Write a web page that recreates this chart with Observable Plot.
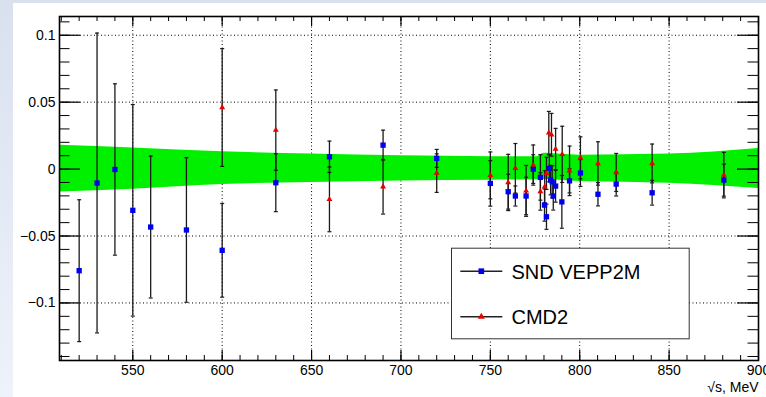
<!DOCTYPE html>
<html><head><meta charset="utf-8">
<script src="https://cdn.jsdelivr.net/npm/d3@7"></script>
<script src="https://cdn.jsdelivr.net/npm/@observablehq/plot@0.6"></script>
<style>
html,body{margin:0;padding:0;width:766px;height:397px;overflow:hidden;background:linear-gradient(#d9e1ef,#eef2fa);}
#chart{position:absolute;left:13px;top:3px;width:753px;height:394px;background:#fff;}
</style></head><body><div id="chart"></div>
<script>
// SND VEPP2M
const sndX   = [520, 530, 540, 550, 560, 580, 600, 630, 660, 690, 720, 750, 760, 764, 770, 774, 778, 780.3, 781.4, 783, 783.7, 784.6, 785.2, 786.5, 790, 794.3, 800.4, 810.2, 820.4, 840.5, 880.6];
const sndY   = [-0.0759, -0.0104, -0.0003, -0.0308, -0.0433, -0.0455, -0.0607, -0.0102, 0.0092, 0.0179, 0.0080, -0.0107, -0.0169, -0.0201, -0.0201, 0.0000, -0.0062, -0.0269, -0.0356, 0.0005, -0.0082, -0.0095, -0.0201, -0.0127, -0.0245, -0.0088, -0.0029, -0.0188, -0.0112, -0.0177, -0.0082];
const sndErr = [0.053, 0.112, 0.064, 0.079, 0.053, 0.054, 0.035, 0.0216, 0.0117, 0.0112, 0.0067, 0.017, 0.013, 0.0075, 0.014, 0.0107, 0.017, 0.012, 0.0094, 0.010, 0.011, 0.012, 0.0105, 0.012, 0.0197, 0.009, 0.010, 0.0087, 0.0089, 0.0092, 0.012];
// CMD2
const cmdX   = [600, 630, 660, 690, 720, 750, 760, 764, 770, 774, 778, 780.4, 781.4, 782.7, 784.2, 786.5, 790.2, 794.3, 800.4, 810.2, 820.4, 840.5, 880.6];
const cmdY   = [0.046, 0.0291, -0.0226, -0.0132, -0.003, -0.0047, -0.0100, 0.0006, -0.0163, 0.003, -0.0167, -0.0132, -0.0032, 0.0271, 0.0256, 0.0149, 0.011, -0.0013, 0.0084, 0.0042, -0.0025, 0.0042, -0.0045];
const cmdErr = [0.044, 0.030, 0.0242, 0.0204, 0.0144, 0.0175, 0.021, 0.0185, 0.019, 0.015, 0.014, 0.012, 0.012, 0.016, 0.016, 0.0155, 0.021, 0.0185, 0.0157, 0.0162, 0.0142, 0.0145, 0.017];
// band
const bandX  = [509, 550, 600, 650, 700, 750, 776, 780, 790, 800, 850, 900];
const bandHi = [0.0178, 0.0158, 0.0130, 0.0113, 0.0100, 0.0093, 0.0092, 0.0118, 0.0110, 0.0104, 0.0112, 0.0154];
const bandLo = [-0.0172, -0.0150, -0.0115, -0.0100, -0.0089, -0.0083, -0.0080, -0.0078, -0.0085, -0.0092, -0.0105, -0.0145];
// ticks
const xTickValues = [550, 600, 650, 700, 750, 800, 850, 900];
const xTickLabels = ["550", "600", "650", "700", "750", "800", "850", "900"];
const yTickValues = [-0.1, -0.05, 0, 0.05, 0.1];
const yTickLabels = ["\u22120.1", "\u22120.05", "0", "0.05", "0.1"];
const seriesNames = ["SND VEPP2M", "CMD2"];
const xLabel = "\u221As, MeV";

const W = 753, H = 394, mL = 46, mR = 8, mT = 13, mB = 37;
const iW = W - mL - mR, iH = H - mT - mB;
const xMinor = d3.range(510, 901, 10);
const yMinor = d3.range(-14, 12).map(v => Math.round(v) / 100);
const blue = "#0000f0", red = "#e80000", green = "#00f000", bar = "#1a1a1a";

const snd = sndX.map((x, i) => ({x, y: sndY[i], e: sndErr[i]}));
const cmd = cmdX.map((x, i) => ({x, y: cmdY[i], e: cmdErr[i]}));
const band = bandX.map((x, i) => ({x, hi: bandHi[i], lo: bandLo[i]}));

const lineSym = {draw(ctx, size) { const w = Math.sqrt(size / Math.PI); ctx.moveTo(-w, 0); ctx.lineTo(w, 0); }};

function errMarks(data) {
  return [
    Plot.ruleX(data, {x: "x", y1: d => d.y - d.e, y2: d => d.y + d.e, stroke: bar, strokeWidth: 1.3}),
    Plot.dot(data, {x: "x", y: d => d.y - d.e, symbol: lineSym, r: 2, stroke: bar, fill: "none", strokeWidth: 1.2}),
    Plot.dot(data, {x: "x", y: d => d.y + d.e, symbol: lineSym, r: 2, stroke: bar, fill: "none", strokeWidth: 1.2})
  ];
}

const lgL = 392, lgR = 69.3, lgT = 231.7, lgB = 21.7;
const lgCx = 421.8, lgY1 = 254.7, lgY2 = 300.3, lgTx = 452;

const chart = Plot.plot({
  width: W, height: H, marginLeft: mL, marginRight: mR, marginTop: mT, marginBottom: mB,
  style: {fontFamily: "'Liberation Sans', Arial, Helvetica, sans-serif", fontSize: "14px", background: "white", color: "black", overflow: "visible"},
  x: {domain: [509, 900], ticks: xTickValues, tickSize: 0, tickPadding: 5, tickFormat: d => xTickLabels[xTickValues.indexOf(d)], label: null},
  y: {domain: [-0.143, 0.114], ticks: yTickValues, tickSize: 0, tickPadding: 4, tickFormat: d => yTickLabels[yTickValues.findIndex(v => Math.abs(v - d) < 1e-9)], label: null},
  marks: [
    Plot.ruleX(xTickValues.slice(0, -1), {stroke: "black", strokeWidth: 1, strokeDasharray: "1,2.5"}),
    Plot.ruleY(yTickValues, {stroke: "black", strokeWidth: 1, strokeDasharray: "1,2.5"}),
    Plot.areaY(band, {x: "x", y1: "lo", y2: "hi", fill: green, curve: "monotone-x"}),
    // ticks
    Plot.ruleY(yMinor, {y: d => d, insetRight: iW - 10.5, stroke: "black", strokeWidth: 1}),
    Plot.ruleY(yMinor, {y: d => d, insetLeft: iW - 10.5, stroke: "black", strokeWidth: 1}),
    Plot.ruleY(yTickValues, {y: d => d, insetRight: iW - 21, stroke: "black", strokeWidth: 1.2}),
    Plot.ruleY(yTickValues, {y: d => d, insetLeft: iW - 21, stroke: "black", strokeWidth: 1.2}),
    Plot.ruleX(xMinor, {x: d => d, insetTop: iH - 5, stroke: "black", strokeWidth: 1}),
    Plot.ruleX(xMinor, {x: d => d, insetBottom: iH - 5, stroke: "black", strokeWidth: 1}),
    Plot.ruleX(xTickValues, {x: d => d, insetTop: iH - 10, stroke: "black", strokeWidth: 1.2}),
    Plot.ruleX(xTickValues, {x: d => d, insetBottom: iH - 10, stroke: "black", strokeWidth: 1.2}),
    // data
    ...errMarks(snd),
    ...errMarks(cmd),
    Plot.dot(snd, {x: "x", y: "y", symbol: "square", r: 3, fill: blue}),
    Plot.dot(cmd, {x: "x", y: "y", symbol: "triangle", r: 2.2, fill: red}),
    Plot.frame({stroke: "black", strokeWidth: 1.6}),
    // legend
    Plot.frame({insetLeft: lgL, insetRight: lgR, insetTop: lgT, insetBottom: lgB, fill: "white", stroke: "#333", strokeWidth: 1}),
    Plot.dot([0], {frameAnchor: "top-left", dx: lgCx, dy: lgY1, symbol: lineSym, r: 21, stroke: "#222", fill: "none", strokeWidth: 1.5}),
    Plot.dot([0], {frameAnchor: "top-left", dx: lgCx, dy: lgY2, symbol: lineSym, r: 21, stroke: "#222", fill: "none", strokeWidth: 1.5}),
    Plot.dot([0], {frameAnchor: "top-left", dx: lgCx, dy: lgY1, symbol: "square", r: 3.2, fill: blue}),
    Plot.dot([0], {frameAnchor: "top-left", dx: lgCx, dy: lgY2, symbol: "triangle", r: 2.6, fill: red}),
    Plot.text([seriesNames[0]], {frameAnchor: "top-left", dx: lgTx, dy: lgY1 + 1, text: d => d, textAnchor: "start", lineAnchor: "middle", fontSize: 20, fill: "black"}),
    Plot.text([seriesNames[1]], {frameAnchor: "top-left", dx: lgTx, dy: lgY2 + 1, text: d => d, textAnchor: "start", lineAnchor: "middle", fontSize: 20, fill: "black"}),
    Plot.text([xLabel], {frameAnchor: "bottom-right", text: d => d, textAnchor: "end", lineAnchor: "middle", dy: 27, fontSize: 14, fill: "black"})
  ]
});
document.getElementById("chart").appendChild(chart);
</script></body></html>
